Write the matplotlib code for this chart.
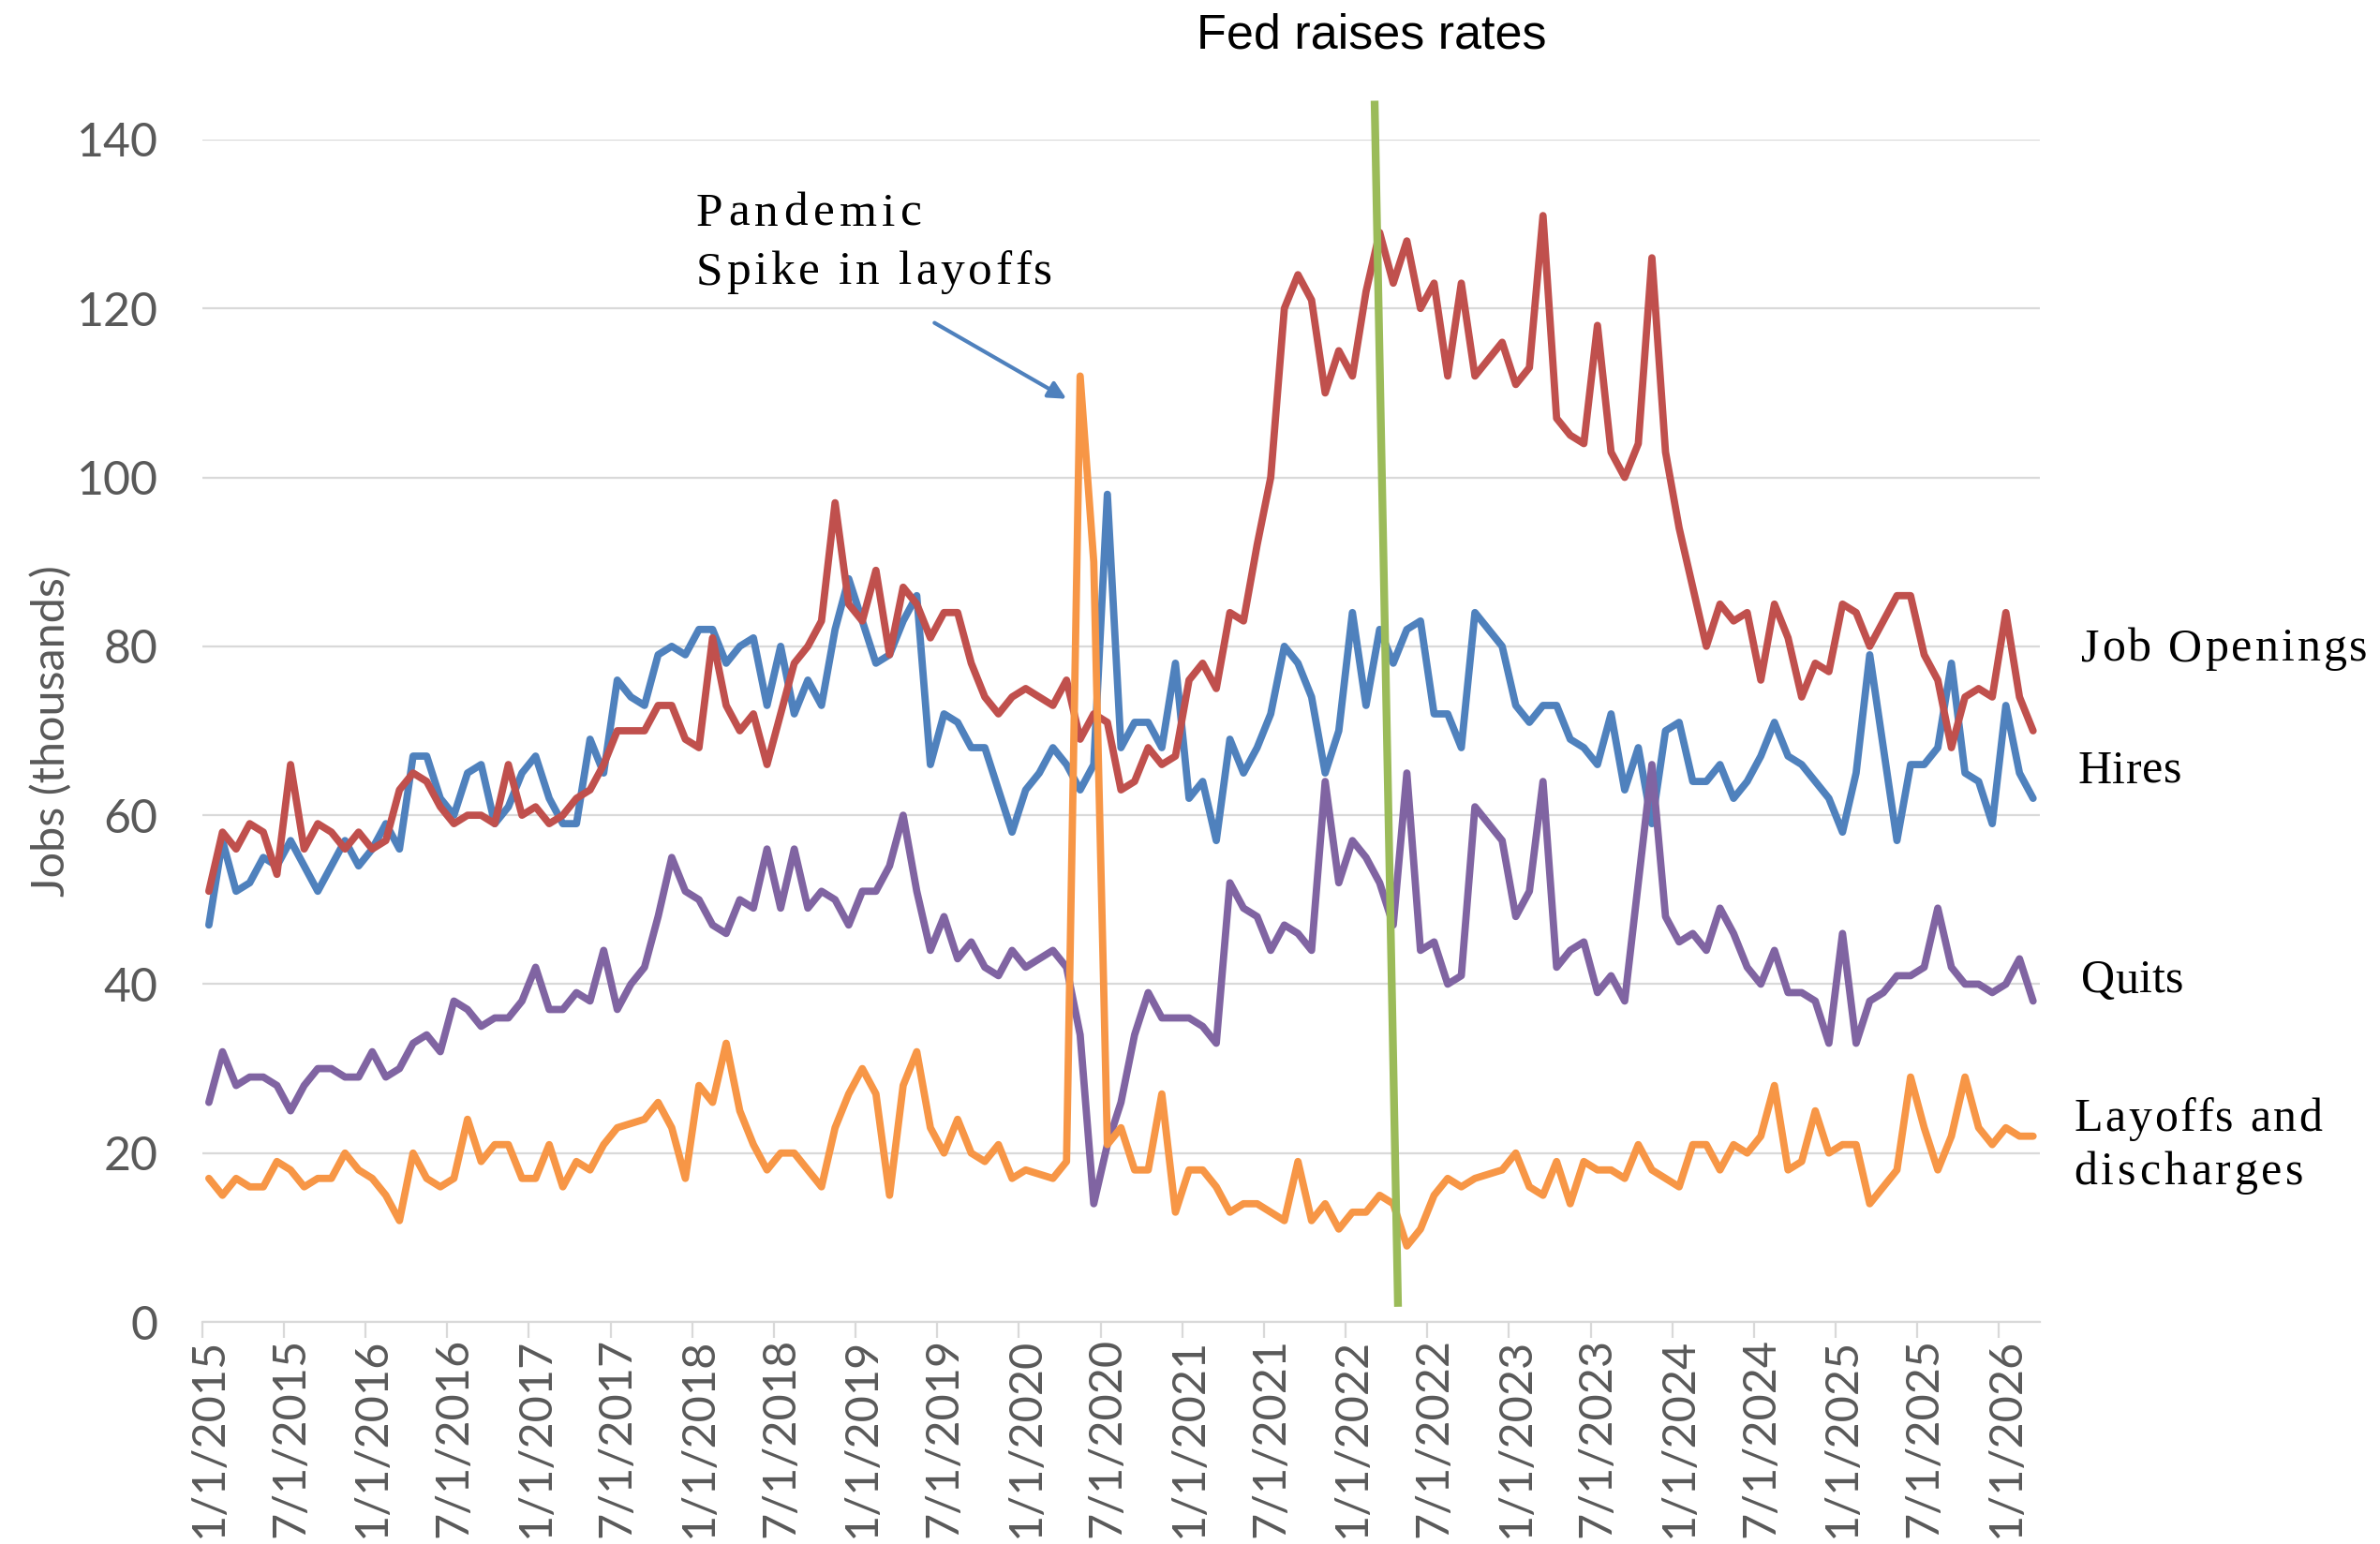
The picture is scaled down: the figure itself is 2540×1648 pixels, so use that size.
import matplotlib
matplotlib.use("Agg")
import matplotlib.pyplot as plt
from matplotlib.font_manager import FontProperties

# ---------------------------------------------------------------------------
# Data — monthly, Jan 2015 .. Mar 2026, jobs in thousands
# ---------------------------------------------------------------------------

job_openings = [
    51, 58, 56, 59, 58, 53, 66, 56, 59, 58, 56, 58, 56, 57, 63, 65, 64, 61, 59, 60, 60, 59, 66, 60,
    61, 59, 60, 62, 63, 66, 70, 70, 70, 73, 73, 69, 68, 81, 73, 70, 72, 66, 72, 78, 80, 83, 97,
    85, 83, 89, 79, 87, 85, 81, 84, 84, 78, 74, 72, 74, 75, 74, 73, 76, 69, 72, 71, 63, 64, 68, 66,
    67, 76, 78, 75, 84, 83, 92, 100, 120, 124, 121, 110, 115, 112, 122, 129, 123, 128, 120, 123, 112, 123, 112,
    114, 116, 111, 113, 131, 107, 105, 104, 118, 103, 100, 104, 126, 103, 94, 87, 80, 85, 83, 84, 76, 85, 81,
    74, 78, 77, 85, 84, 80, 83, 86, 86, 79, 76, 68, 74, 75, 74, 84, 74, 70,
]

hires = [
    47, 57, 51, 52, 55, 54, 57, 54, 51, 54, 57, 54, 56, 59, 56, 67, 67, 62, 60, 65, 66, 59, 61, 65,
    67, 62, 59, 59, 69, 65, 76, 74, 73, 79, 80, 79, 82, 82, 78, 80, 81, 73, 80, 72, 76, 73, 82,
    88, 83, 78, 79, 83, 86, 66, 72, 71, 68, 68, 63, 58, 63, 65, 68, 66, 63, 66, 98, 68, 71, 71, 68,
    78, 62, 64, 57, 69, 65, 68, 72, 80, 78, 74, 65, 70, 84, 73, 82, 78, 82, 83, 72, 72, 68, 84,
    82, 80, 73, 71, 73, 73, 69, 68, 66, 72, 63, 68, 59, 70, 71, 64, 64, 66, 62, 64, 67, 71, 67,
    66, 64, 62, 58, 65, 79, 68, 57, 66, 66, 68, 78, 65, 64, 59, 73, 65, 62,
]

quits = [
    26, 32, 28, 29, 29, 28, 25, 28, 30, 30, 29, 29, 32, 29, 30, 33, 34, 32, 38, 37, 35, 36, 36, 38,
    42, 37, 37, 39, 38, 44, 37, 40, 42, 48, 55, 51, 50, 47, 46, 50, 49, 56, 49, 56, 49, 51, 50,
    47, 51, 51, 54, 60, 51, 44, 48, 43, 45, 42, 41, 44, 42, 43, 44, 42, 34, 14, 21, 26, 34, 39, 36,
    36, 36, 35, 33, 52, 49, 48, 44, 47, 46, 44, 64, 52, 57, 55, 52, 47, 65, 44, 45, 40, 41, 61,
    59, 57, 48, 51, 64, 42, 44, 45, 39, 41, 38, 52, 66, 48, 45, 46, 44, 49, 46, 42, 40, 44, 39,
    39, 38, 33, 46, 33, 38, 39, 41, 41, 42, 49, 42, 40, 40, 39, 40, 43, 38,
]

layoffs = [
    17, 15, 17, 16, 16, 19, 18, 16, 17, 17, 20, 18, 17, 15, 12, 20, 17, 16, 17, 24, 19, 21, 21, 17,
    17, 21, 16, 19, 18, 21, 23, 23.5, 24, 26, 23, 17, 28, 26, 33, 25, 21, 18, 20, 20, 18, 16, 23,
    27, 30, 27, 15, 28, 32, 23, 20, 24, 20, 19, 21, 17, 18, 17.5, 17, 19, 112, 90, 21, 23, 18, 18, 27,
    13, 18, 18, 16, 13, 14, 14, 13, 12, 19, 12, 14, 11, 13, 13, 15, 14, 9, 11, 15, 17, 16, 17,
    17.5, 18, 20, 16, 15, 19, 14, 19, 18, 18, 17, 21, 18, 17, 16, 21, 21, 18, 21, 20, 22, 28, 18,
    19, 25, 20, 21, 21, 14, 16, 18, 29, 23, 18, 22, 29, 23, 21, 23, 22, 22,
]

tick_labels = [
    "1/1/2015", "7/1/2015", "1/1/2016", "7/1/2016", "1/1/2017", "7/1/2017",
    "1/1/2018", "7/1/2018", "1/1/2019", "7/1/2019", "1/1/2020", "7/1/2020",
    "1/1/2021", "7/1/2021", "1/1/2022", "7/1/2022", "1/1/2023", "7/1/2023",
    "1/1/2024", "7/1/2024", "1/1/2025", "7/1/2025", "1/1/2026",
]

months = list(range(len(hires)))

# ---------------------------------------------------------------------------
# Styling
# ---------------------------------------------------------------------------

BLUE   = "#4F81BD"
RED    = "#C0504D"
PURPLE = "#8064A2"
ORANGE = "#F79646"
GREEN  = "#9BBB59"
GRID   = "#D9D9D9"
LABEL  = "#595959"

SANS  = "Lato"
SERIF = "Liberation Serif"

fig = plt.figure(figsize=(25.4, 16.48), dpi=100)
ax = fig.add_axes([0.0849, 0.1438, 0.7722, 0.7658])

line_kw = dict(lw=5.6, solid_joinstyle="round", solid_capstyle="round")
ax.plot(months, hires,        color=BLUE,   zorder=3, **line_kw)
ax.plot(months, job_openings, color=RED,    zorder=4, **line_kw)
ax.plot(months, quits,        color=PURPLE, zorder=5, **line_kw)
ax.plot(months, layoffs,      color=ORANGE, zorder=6, **line_kw)

ax.set_xlim(-0.5, len(months) - 0.5)
ax.set_ylim(0, 140)

# y axis
ax.set_yticks(range(0, 141, 20))
ax.yaxis.grid(True, color=GRID, lw=1.6)
ax.set_axisbelow(True)
ax.tick_params(axis="y", length=0, pad=34, labelsize=36, labelcolor=LABEL)
ax.set_ylabel("Jobs (thousands)", fontsize=35, color=LABEL, family=SANS)
ax.yaxis.set_label_coords(-0.071, 0.5)

# x axis: labels on the month, tick marks between months
ax.set_xticks(months[::6][:len(tick_labels)])
ax.set_xticklabels(tick_labels, rotation=90, va="top", ha="center")
ax.set_xticks([m - 0.5 for m in months[::6]], minor=True)
ax.tick_params(axis="x", which="major", length=0, pad=12, labelsize=35, labelcolor=LABEL)
ax.tick_params(axis="x", which="minor", length=12, width=1.6, color=GRID)

for lab in ax.get_xticklabels() + ax.get_yticklabels():
    lab.set_family(SANS)

for side in ["left", "right", "top"]:
    ax.spines[side].set_visible(False)
ax.spines["bottom"].set_color(GRID)
ax.spines["bottom"].set_linewidth(1.6)

# ---------------------------------------------------------------------------
# Letter-spaced serif labels (the original text has loose tracking)
# ---------------------------------------------------------------------------

renderer = fig.canvas.get_renderer()
fig_w, fig_h = fig.bbox.width, fig.bbox.height


def text_w(s, fp):
    # width of s in pixels, keeping trailing spaces by measuring against a bar
    w_bar = renderer.get_text_width_height_descent("|", fp, ismath=False)[0]
    return renderer.get_text_width_height_descent(s + "|", fp, ismath=False)[0] - w_bar


def tracked_text(x, y, s, track, size=36, family=SERIF):
    fp = FontProperties(family=family, size=size)
    px, py = ax.transData.transform((x, y))
    for i, ch in enumerate(s):
        if ch == " ":
            continue
        cx = px + text_w(s[:i], fp) + i * track
        fig.text(cx / fig_w, py / fig_h, ch, fontproperties=fp,
                 ha="left", va="baseline", color="black")


# ---------------------------------------------------------------------------
# Annotations
# ---------------------------------------------------------------------------

# Fed rate marker (hand drawn slanted line in the original)
ax.plot([85.63, 87.35], [144.6, 1.8], color=GREEN, lw=6, zorder=8,
        solid_capstyle="butt", clip_on=False)
ax.text(85.4, 152.3, "Fed raises rates", ha="center", va="center",
        fontsize=37.5, family="Liberation Sans", color="black")

# Pandemic note with arrow
tracked_text(35.8, 129.8, "Pandemic", 5.5, size=37)
tracked_text(35.8, 122.9, "Spike in layoffs", 3.7, size=37)
ax.annotate("", xy=(63.0, 109.3), xytext=(53.3, 118.3),
            arrowprops=dict(arrowstyle="-|>", color=BLUE, lw=3,
                            mutation_scale=28, shrinkA=0, shrinkB=0))

# series labels on the right
tracked_text(137.5, 78.3, "Job Openings", 3.0)
tracked_text(137.3, 63.8, "Hires", 0.5)
tracked_text(137.5, 39.0, "Quits", 0.5)
tracked_text(137.0, 22.6, "Layoffs and", 2.6)
tracked_text(137.0, 16.3, "discharges", 3.9)

fig.savefig("out.png", dpi=100, facecolor="white")
